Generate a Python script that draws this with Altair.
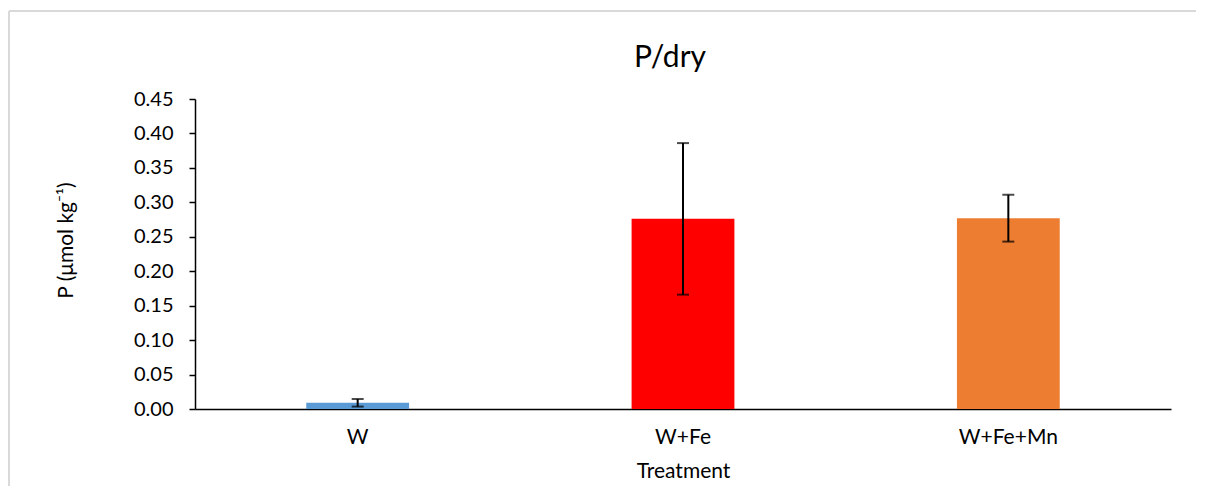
import altair as alt
import pandas as pd

treatments = ["W", "W+Fe", "W+Fe+Mn"]
means = [0.009, 0.276, 0.277]
errors = [0.0055, 0.110, 0.034]
colors = ["#5B9BD5", "#FF0000", "#ED7D31"]
y_ticks = [0.00, 0.05, 0.10, 0.15, 0.20, 0.25, 0.30, 0.35, 0.40, 0.45]

df = pd.DataFrame({"Treatment": treatments, "mean": means, "err": errors})
df["lo"] = df["mean"] - df["err"]
df["hi"] = df["mean"] + df["err"]

FONT = "Lato"

x_axis = alt.Axis(
    title="Treatment",
    labelAngle=0,
    ticks=False,
    domainColor="black",
    domainWidth=1.5,
    labelPadding=17,
    labelFontSize=21,
    labelFont=FONT,
    labelColor="black",
    titleFontSize=21,
    titleFont=FONT,
    titleFontWeight="normal",
    titleColor="black",
    titlePadding=13,
)
x_scale = alt.Scale(paddingInner=0.684, paddingOuter=0.342)

y_axis = alt.Axis(
    title="P (μmol kg⁻¹)",
    values=y_ticks,
    format=".2f",
    labelOverlap=False,
    grid=False,
    domainColor="black",
    domainWidth=1.5,
    tickColor="black",
    tickWidth=1.5,
    tickSize=6,
    labelPadding=16,
    labelFontSize=20,
    labelFont=FONT,
    labelColor="black",
    titleFontSize=21,
    titleFont=FONT,
    titleFontWeight="normal",
    titleColor="black",
    titleX=-129,
    titleY=141,
    titleAngle=270,
    titleAlign="center",
    titleBaseline="middle",
)
y_scale = alt.Scale(domain=[0, 0.45], nice=False)


def xe():
    return alt.X("Treatment:N", sort=treatments, scale=x_scale, axis=x_axis)


def ye(field):
    return alt.Y(field, scale=y_scale, axis=y_axis)


base = alt.Chart(df)

bars = base.mark_bar().encode(
    x=xe(),
    y=ye("mean:Q"),
    color=alt.Color(
        "Treatment:N",
        scale=alt.Scale(domain=treatments, range=colors),
        legend=None,
    ),
)

rules = base.mark_rule(color="black", strokeWidth=2).encode(
    x=xe(),
    y=ye("lo:Q"),
    y2="hi:Q",
)
caps_hi = base.mark_tick(color="black", thickness=2, size=12).encode(
    x=xe(),
    y=ye("hi:Q"),
)
caps_lo = base.mark_tick(color="black", thickness=2, size=12).encode(
    x=xe(),
    y=ye("lo:Q"),
)

border_v = alt.Chart(pd.DataFrame({"k": [0]})).mark_rule(
    color="#d9d9d9", strokeWidth=2
).encode(x=alt.value(-186), y=alt.value(-88), y2=alt.value(400))
border_h = alt.Chart(pd.DataFrame({"k": [0]})).mark_rule(
    color="#d9d9d9", strokeWidth=2
).encode(x=alt.value(-186), x2=alt.value(1100), y=alt.value(-88))

chart = (
    alt.layer(bars, rules, caps_hi, caps_lo, border_v, border_h)
    .properties(
        width=976,
        height=310,
        title=alt.TitleParams(
            "P/dry",
            fontSize=30,
            font=FONT,
            fontWeight="normal",
            color="black",
            anchor="middle",
            dx=-13,
            offset=-63,
        ),
        autosize=alt.AutoSizeParams(type="none"),
        padding={"left": 187, "top": 91, "right": 25, "bottom": 77},
    )
    .configure_view(stroke=None)
)

chart.save("out.html", embed_options={"renderer": "svg", "actions": False})
